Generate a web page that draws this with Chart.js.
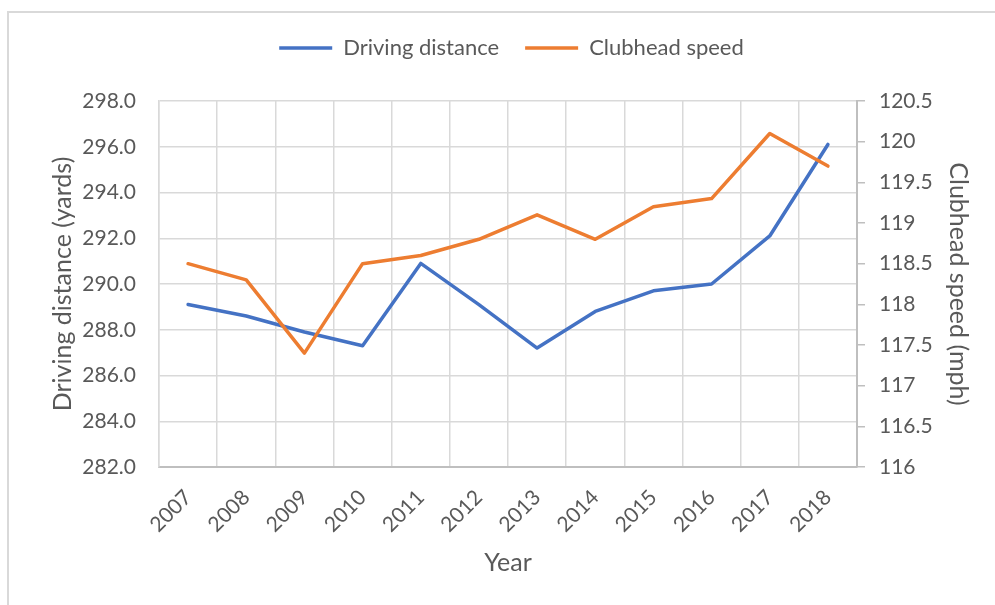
<!DOCTYPE html>
<html>
<head>
<meta charset="utf-8">
<script src="https://cdn.jsdelivr.net/npm/chart.js@4.4.0/dist/chart.umd.min.js"></script>
<style>
  html, body { margin: 0; padding: 0; background: #ffffff; }
  #wrap { position: relative; width: 995px; height: 605px; overflow: hidden; }
  #frame { position: absolute; left: 7px; top: 11px; width: 1000px; height: 600px;
           border-left: 2px solid #d9d9d9; border-top: 2px solid #d9d9d9; }
  canvas { position: absolute; left: 0; top: 0; }
</style>
</head>
<body>
<div id="wrap">
  <div id="frame"></div>
  <canvas id="c" width="995" height="605"></canvas>
</div>
<script>
// ---- data ----
const years = ['2007','2008','2009','2010','2011','2012','2013','2014','2015','2016','2017','2018'];
const drivingDistance = [289.1, 288.6, 287.9, 287.3, 290.9, 289.1, 287.2, 288.8, 289.7, 290.0, 292.1, 296.1];
const clubheadSpeed = [118.5, 118.3, 117.4, 118.5, 118.6, 118.8, 119.1, 118.8, 119.2, 119.3, 120.1, 119.7];
const seriesNames = ['Driving distance', 'Clubhead speed'];
const leftAxisRange = [282, 298, 2];
const rightAxisRange = [116, 120.5, 0.5];
const axisTitles = ['Year', 'Driving distance (yards)', 'Clubhead speed (mph)'];

const TXT = '#595959';
const GRID = '#d9d9d9';
const AXIS = '#bfbfbf';
const FONT = 'Lato, Carlito, Calibri, sans-serif';

const legendSpacer = {
  id: 'legendSpacer',
  beforeLayout(chart) {
    const lg = chart.legend;
    if (lg && !lg._spaced) {
      const f = lg.fit;
      lg.fit = function () { f.call(this); this.height += 32; };
      lg._spaced = true;
    }
  }
};

new Chart(document.getElementById('c'), {
  type: 'line',
  data: {
    labels: years,
    datasets: [
      {
        label: seriesNames[0],
        data: drivingDistance,
        yAxisID: 'yL',
        borderColor: '#4472C4',
        backgroundColor: '#4472C4',
        borderWidth: 3.5,
        pointRadius: 0,
        tension: 0,
        borderCapStyle: 'round',
        borderJoinStyle: 'round',
        order: 1
      },
      {
        label: seriesNames[1],
        data: clubheadSpeed,
        yAxisID: 'yR',
        borderColor: '#ED7D31',
        backgroundColor: '#ED7D31',
        borderWidth: 3.5,
        pointRadius: 0,
        tension: 0,
        borderCapStyle: 'round',
        borderJoinStyle: 'round',
        order: 0
      }
    ]
  },
  options: {
    responsive: false,
    devicePixelRatio: 1,
    animation: false,
    layout: { padding: { left: 28, right: 0, top: 11, bottom: 0 } },
    plugins: {
      tooltip: { enabled: false },
      legend: {
        position: 'top',
        labels: {
          usePointStyle: true,
          pointStyle: 'line',
          pointStyleWidth: 53,
          padding: 26,
          color: TXT,
          font: { family: FONT, size: 22 },
          sort: (a, b) => a.datasetIndex - b.datasetIndex
        }
      }
    },
    scales: {
      x: {
        type: 'category',
        offset: true,
        grid: { offset: true, color: GRID, lineWidth: 1.5, drawTicks: false },
        border: { display: true, color: AXIS, width: 2 },
        ticks: {
          color: TXT,
          font: { family: FONT, size: 21 },
          maxRotation: 45,
          minRotation: 45,
          padding: 18,
          autoSkip: false
        },
        title: {
          display: true,
          text: axisTitles[0],
          color: TXT,
          font: { family: FONT, size: 25 },
          padding: { top: 0, bottom: 27 }
        },
        afterFit(scale) { scale.height = 138; }
      },
      yL: {
        type: 'linear',
        position: 'left',
        min: leftAxisRange[0],
        max: leftAxisRange[1],
        ticks: {
          stepSize: leftAxisRange[2],
          color: TXT,
          font: { family: FONT, size: 21 },
          padding: 23,
          callback: (v) => Number(v).toFixed(1)
        },
        grid: { color: GRID, lineWidth: 1.5, drawTicks: false },
        border: { display: true, color: GRID, width: 1.5 },
        title: {
          display: true,
          text: axisTitles[1],
          color: TXT,
          font: { family: FONT, size: 25 },
          padding: { top: 20, bottom: 0 }
        },
        afterFit(scale) { scale.width = 131; }
      },
      yR: {
        type: 'linear',
        position: 'right',
        min: rightAxisRange[0],
        max: rightAxisRange[1],
        ticks: {
          stepSize: rightAxisRange[2],
          color: TXT,
          font: { family: FONT, size: 21 },
          padding: 14,
          callback: (v) => String(Number(v))
        },
        grid: { drawOnChartArea: false, drawTicks: true, tickLength: 8, color: AXIS, lineWidth: 1.5 },
        border: { display: true, color: AXIS, width: 2 },
        title: {
          display: true,
          text: axisTitles[2],
          color: TXT,
          font: { family: FONT, size: 25 },
          padding: { top: 22, bottom: 0 }
        },
        afterFit(scale) { scale.width = 138; }
      }
    }
  },
  plugins: [legendSpacer]
});
</script>
</body>
</html>
